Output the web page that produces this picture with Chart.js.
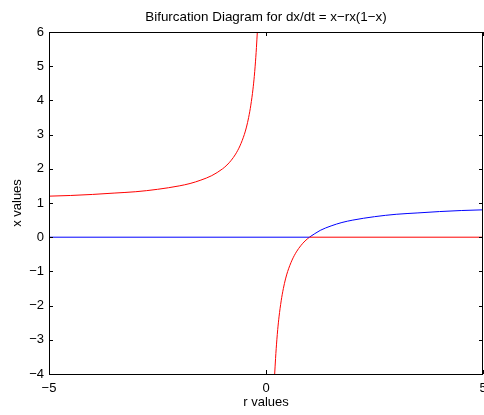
<!DOCTYPE html>
<html>
<head>
<meta charset="utf-8">
<script src="https://cdn.jsdelivr.net/npm/chart.js@4/dist/chart.umd.min.js"></script>
<style>
  html, body { margin: 0; padding: 0; background: #fff; }
  #wrap { width: 484px; height: 415px; }
</style>
</head>
<body>
<div id="wrap"><canvas id="bif" width="484" height="415"></canvas></div>
<script>
// left branch of the non-zero fixed point (r < 0)
const r_left = [-5, -4.5, -4, -3.5, -3, -2.5, -2, -1.75, -1.5, -1.25, -1, -0.9, -0.8, -0.7, -0.6, -0.5, -0.45, -0.4, -0.35, -0.3, -0.27, -0.25, -0.22, -0.2];
const x_left = [1.2, 1.22, 1.25, 1.29, 1.33, 1.4, 1.5, 1.57, 1.67, 1.8, 2, 2.11, 2.25, 2.43, 2.67, 3, 3.22, 3.5, 3.86, 4.33, 4.7, 5, 5.55, 6];
// right branch, unstable part (0 < r < 1)
const r_right_red = [0.2, 0.22, 0.25, 0.27, 0.3, 0.35, 0.4, 0.45, 0.5, 0.6, 0.7, 0.8, 0.9, 1];
const x_right_red = [-4, -3.55, -3, -2.7, -2.33, -1.86, -1.5, -1.22, -1, -0.67, -0.43, -0.25, -0.11, 0];
// right branch, stable part (r > 1)
const r_right_blue = [1, 1.25, 1.5, 1.75, 2, 2.5, 3, 3.5, 4, 4.5, 5];
const x_right_blue = [0, 0.2, 0.33, 0.43, 0.5, 0.6, 0.67, 0.71, 0.75, 0.78, 0.8];
// x = 0 fixed point
const r_zero_blue = [-5, 1];
const r_zero_red = [1, 5];
const x_zero = [0, 0];

const xTicks = [-5, 0, 5];
const yTicks = [-4, -3, -2, -1, 0, 1, 2, 3, 4, 5, 6];

const TITLE = "Bifurcation Diagram for dx/dt = x\u2212rx(1\u2212x)";
const RED = "#ff0000";
const BLUE = "#0000ff";

function pts(xs, ys) {
  return xs.map((v, i) => ({ x: v, y: ys[i] }));
}

function line(xs, ys, color) {
  return {
    data: pts(xs, ys),
    borderColor: color,
    borderWidth: 1,
    pointRadius: 0,
    fill: false,
    cubicInterpolationMode: "monotone",
  };
}

const minus = (v) => String(v).replace("-", "\u2212");
const FAMILY = "'Liberation Sans', Arial, sans-serif";
const font = { family: FAMILY, size: 13 };

// box around the plot, small ticks pointing inwards on every side,
// and the title centred over the plot area (like matlab does)
const boxPlugin = {
  id: "box",
  afterDatasetsDraw(chart) {
    const { ctx, chartArea: a, scales } = chart;
    const tl = 4;
    ctx.save();
    ctx.strokeStyle = "#000";
    ctx.lineWidth = 1;
    ctx.beginPath();
    xTicks.forEach((t) => {
      const px = Math.round(scales.x.getPixelForValue(t)) + 0.5;
      ctx.moveTo(px, a.bottom); ctx.lineTo(px, a.bottom - tl);
      ctx.moveTo(px, a.top); ctx.lineTo(px, a.top + tl);
    });
    yTicks.forEach((t) => {
      const py = Math.round(scales.y.getPixelForValue(t)) + 0.5;
      ctx.moveTo(a.left, py); ctx.lineTo(a.left + tl, py);
      ctx.moveTo(a.right, py); ctx.lineTo(a.right - tl, py);
    });
    ctx.stroke();
    ctx.strokeRect(Math.round(a.left) + 0.5, Math.round(a.top) + 0.5,
      Math.round(a.right - a.left) - 1, Math.round(a.bottom - a.top));

    ctx.fillStyle = "#000";
    ctx.font = "13.4px " + FAMILY;
    ctx.textAlign = "center";
    ctx.textBaseline = "middle";
    ctx.fillText(TITLE, (a.left + a.right) / 2, 17);
    ctx.restore();
  },
};

new Chart(document.getElementById("bif"), {
  type: "line",
  data: {
    datasets: [
      line(r_zero_blue, x_zero, BLUE),
      line(r_zero_red, x_zero, RED),
      line(r_left, x_left, RED),
      line(r_right_red, x_right_red, RED),
      line(r_right_blue, x_right_blue, BLUE),
    ],
  },
  options: {
    responsive: false,
    animation: false,
    events: [],
    layout: { padding: { left: 0, right: 1, top: 32, bottom: 0 } },
    plugins: {
      legend: { display: false },
      tooltip: { enabled: false },
      title: { display: false },
    },
    scales: {
      x: {
        type: "linear",
        min: -5,
        max: 5,
        afterBuildTicks: (s) => { s.ticks = xTicks.map((v) => ({ value: v })); },
        afterFit: (s) => { s.height = 41; s.paddingLeft = 0; s.paddingRight = 0; },
        grid: { display: false, drawTicks: false },
        border: { display: false },
        ticks: { color: "#000", font, padding: 7, maxRotation: 0, callback: minus },
        title: { display: true, text: "r values", color: "#000", font, padding: { top: 0, bottom: 5 } },
      },
      y: {
        type: "linear",
        min: -4,
        max: 6,
        afterBuildTicks: (s) => { s.ticks = yTicks.map((v) => ({ value: v })); },
        afterFit: (s) => { s.width = 49; },
        grid: { display: false, drawTicks: false },
        border: { display: false },
        ticks: { color: "#000", font, padding: 5, callback: minus },
        title: { display: true, text: "x values", color: "#000", font, padding: { top: 10, bottom: 0 } },
      },
    },
  },
  plugins: [boxPlugin],
});
</script>
</body>
</html>
